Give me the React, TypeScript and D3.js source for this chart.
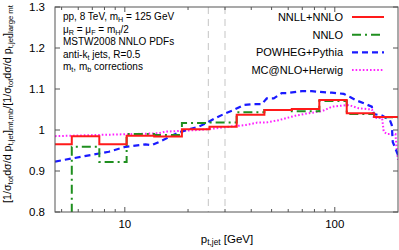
import { useEffect, useRef } from 'react';
import * as d3 from 'd3';

// bin edges (GeV) of the resummed / fixed-order histograms
const binEdges = [4.65, 5.59, 7.56, 10.2, 13.8, 18.7, 25.3, 34.1, 46.2, 62.4, 84.4, 114, 154, 200];
const nnllNnlo = [0.965, 0.985, 0.965, 0.986, 0.984, 1.002, 1.008, 1.037, 1.049, 1.051, 1.073, 1.041, 1.032];
const nnlo = [0.7, 0.959, 0.922, 0.99, 0.988, 1.017, 1.018, 1.043, 1.049, 1.046, 1.071, 1.039, 1.031];

const powhegX = [4.65, 6.24, 8.39, 10.08, 12.55, 13.45, 15.3, 17.7, 20.2, 22.5, 25.1, 27.0, 30.2, 32.4, 36.9, 40.3, 44.9, 47.4, 51.2, 55.9, 59.0, 69.7, 77.7, 83.9, 96.8, 110.4, 118.8, 125.6, 137.5, 150, 153.4, 168, 183, 186.8, 188.8, 200];
const powhegY = [0.923, 0.935, 0.947, 0.959, 0.965, 0.963, 0.976, 0.992, 1.002, 1.008, 1.02, 1.029, 1.041, 1.047, 1.061, 1.063, 1.063, 1.077, 1.077, 1.09, 1.09, 1.095, 1.095, 1.093, 1.091, 1.088, 1.08, 1.073, 1.065, 1.057, 1.039, 1.035, 1.024, 1.012, 0.971, 0.939];

const mcnloX = [4.65, 7.52, 10.8, 14.5, 15.6, 18.7, 22.5, 27.0, 31.3, 37.6, 42.7, 46.8, 54.1, 65.0, 75.2, 87.0, 97.1, 116.6, 130, 150.5, 153.4, 168, 171, 177.4, 194.5, 196.7, 200];
const mcnloY = [0.985, 0.988, 0.99, 0.992, 0.996, 0.998, 1.0, 1.004, 1.008, 1.012, 1.018, 1.018, 1.024, 1.035, 1.041, 1.046, 1.057, 1.061, 1.053, 1.05, 1.029, 1.029, 0.996, 0.99, 0.99, 0.959, 0.927];

const xMajor = [10, 100];
const xMinor = [5, 6, 7, 8, 9, 20, 30, 40, 50, 60, 70, 80, 90];
const vLines = [25, 30];

const legendNames = ['NNLL+NNLO', 'NNLO', 'POWHEG+Pythia', 'MC@NLO+Herwig'];
const colors = ['#ff1a1a', '#1f8f1f', '#1a1aff', '#ff22ff'];
const dashes = ['none', '9,4,2,4', '6,4', '1.6,2'];

type Seg = { t: string; sub?: boolean };

function rich(sel: any, segs: Seg[], size: number) {
  segs.forEach((s) => {
    sel
      .append('tspan')
      .attr('baseline-shift', s.sub ? '-25%' : null)
      .style('font-size', s.sub ? `${size * 0.72}px` : null)
      .text(s.t);
  });
}

export default function App() {
  const svgRef = useRef<SVGSVGElement | null>(null);

  useEffect(() => {
    if (!svgRef.current) return;
    const width = 399;
    const height = 250;
    const m = { left: 55, right: 1, top: 7, bottom: 38 };

    d3.select(svgRef.current).selectAll('*').remove();
    const svg = d3
      .select(svgRef.current)
      .attr('width', width)
      .attr('height', height)
      .style('font-family', '"Liberation Sans", Arial, sans-serif');

    const x = d3.scaleLog().domain([4.65, 200]).range([m.left, width - m.right]);
    const y = d3.scaleLinear().domain([0.8, 1.3]).range([height - m.bottom, m.top]);
    const x0 = m.left;
    const x1 = width - m.right;
    const y0 = height - m.bottom;
    const y1 = m.top;

    svg
      .append('clipPath')
      .attr('id', 'plot-clip')
      .append('rect')
      .attr('x', x0)
      .attr('y', y1)
      .attr('width', x1 - x0)
      .attr('height', y0 - y1);

    // dashed reference lines
    svg
      .selectAll('line.vref')
      .data(vLines)
      .join('line')
      .attr('x1', (d) => x(d))
      .attr('x2', (d) => x(d))
      .attr('y1', y1)
      .attr('y2', y0)
      .attr('stroke', '#cfcfcf')
      .attr('stroke-width', 1.2)
      .attr('stroke-dasharray', '7,5');

    // ticks (inside, all four sides)
    const tickG = svg.append('g').attr('stroke', '#555').attr('stroke-width', 1);
    const addXTicks = (vals: number[], len: number) => {
      vals.forEach((v) => {
        tickG.append('line').attr('x1', x(v)).attr('x2', x(v)).attr('y1', y0).attr('y2', y0 - len);
        tickG.append('line').attr('x1', x(v)).attr('x2', x(v)).attr('y1', y1).attr('y2', y1 + len);
      });
    };
    addXTicks(xMajor, 5);
    addXTicks(xMinor, 3);
    y.ticks(5).forEach((v) => {
      tickG.append('line').attr('x1', x0).attr('x2', x0 + 5).attr('y1', y(v)).attr('y2', y(v));
      tickG.append('line').attr('x1', x1).attr('x2', x1 - 5).attr('y1', y(v)).attr('y2', y(v));
    });

    // tick labels
    svg
      .selectAll('text.ylab')
      .data(y.ticks(5))
      .join('text')
      .attr('x', 45)
      .attr('y', (d) => y(d))
      .attr('dy', '0.36em')
      .attr('text-anchor', 'end')
      .style('font-size', '11.5px')
      .text((d) => d3.format('~g')(d));
    svg
      .selectAll('text.xlab')
      .data(xMajor)
      .join('text')
      .attr('x', (d) => x(d))
      .attr('y', 228)
      .attr('text-anchor', 'middle')
      .style('font-size', '11.5px')
      .text((d) => String(d));

    const plot = svg.append('g').attr('clip-path', 'url(#plot-clip)');

    // histograms
    const histLine = (vals: number[]) => {
      const pts: [number, number][] = [];
      vals.forEach((v, i) => {
        pts.push([binEdges[i], v]);
        pts.push([binEdges[i + 1], v]);
      });
      return d3
        .line<[number, number]>()
        .x((d) => x(d[0]))
        .y((d) => y(d[1]))(pts);
    };
    const curve = (xs: number[], ys: number[]) =>
      d3
        .line<number>()
        .x((d) => x(d))
        .y((_, i) => y(ys[i]))(xs);

    const paths = [histLine(nnllNnlo), histLine(nnlo), curve(powhegX, powhegY), curve(mcnloX, mcnloY)];
    const widths = [2, 2, 2.2, 2];
    // draw magenta and blue first, then histograms on top
    [3, 2, 1, 0].forEach((i) => {
      plot
        .append('path')
        .attr('d', paths[i])
        .attr('fill', 'none')
        .attr('stroke', colors[i])
        .attr('stroke-width', widths[i])
        .attr('stroke-dasharray', dashes[i]);
    });

    // frame
    svg
      .append('rect')
      .attr('x', x0)
      .attr('y', y1)
      .attr('width', x1 - x0)
      .attr('height', y0 - y1)
      .attr('fill', 'none')
      .attr('stroke', '#555')
      .attr('stroke-width', 1);

    // legend
    legendNames.forEach((name, i) => {
      const ly = 17 + i * 17.7;
      svg
        .append('text')
        .attr('x', 343)
        .attr('y', ly)
        .attr('dy', '0.36em')
        .attr('text-anchor', 'end')
        .style('font-size', '11px')
        .text(name);
      svg
        .append('line')
        .attr('x1', 352)
        .attr('x2', 384)
        .attr('y1', ly)
        .attr('y2', ly)
        .attr('stroke', colors[i])
        .attr('stroke-width', widths[i])
        .attr('stroke-dasharray', dashes[i]);
    });

    // annotation
    const notes: Seg[][] = [
      [{ t: 'pp, 8 TeV, m' }, { t: 'H', sub: true }, { t: ' = 125 GeV' }],
      [{ t: 'μ' }, { t: 'R', sub: true }, { t: ' = μ' }, { t: 'F', sub: true }, { t: '  = m' }, { t: 'H', sub: true }, { t: '/2' }],
      [{ t: 'MSTW2008 NNLO PDFs' }],
      [{ t: 'anti-k' }, { t: 't', sub: true }, { t: ' jets, R=0.5' }],
      [{ t: 'm' }, { t: 't', sub: true }, { t: ', m' }, { t: 'b', sub: true }, { t: ' corrections' }],
    ];
    notes.forEach((segs, i) => {
      const t = svg
        .append('text')
        .attr('x', 63)
        .attr('y', 20 + i * 12.6)
        .style('font-size', '10px');
      rich(t, segs, 10);
    });

    // axis titles
    const xt = svg
      .append('text')
      .attr('x', 227)
      .attr('y', 243)
      .attr('text-anchor', 'middle')
      .style('font-size', '11.5px');
    rich(xt, [{ t: 'p' }, { t: 't,jet', sub: true }, { t: ' [GeV]' }], 11.5);

    const yt = svg
      .append('text')
      .attr('transform', `translate(11,104) rotate(-90)`)
      .attr('text-anchor', 'middle')
      .style('font-size', '10.7px');
    rich(
      yt,
      [
        { t: '[1/σ' },
        { t: 'tot', sub: true },
        { t: 'dσ/d p' },
        { t: 't,jet', sub: true },
        { t: ']' },
        { t: 'm', sub: true },
        { t: 't', sub: true },
        { t: ',m', sub: true },
        { t: 'b', sub: true },
        { t: '/[1/σ' },
        { t: 'tot', sub: true },
        { t: 'dσ/d p' },
        { t: 't,jet', sub: true },
        { t: ']' },
        { t: 'large m', sub: true },
        { t: 't', sub: true },
      ],
      10.7
    );
  }, []);

  return (
    <div style={{ position: 'absolute', left: 0, top: 0, background: '#fff' }}>
      <svg ref={svgRef} style={{ display: 'block' }} />
    </div>
  );
}
